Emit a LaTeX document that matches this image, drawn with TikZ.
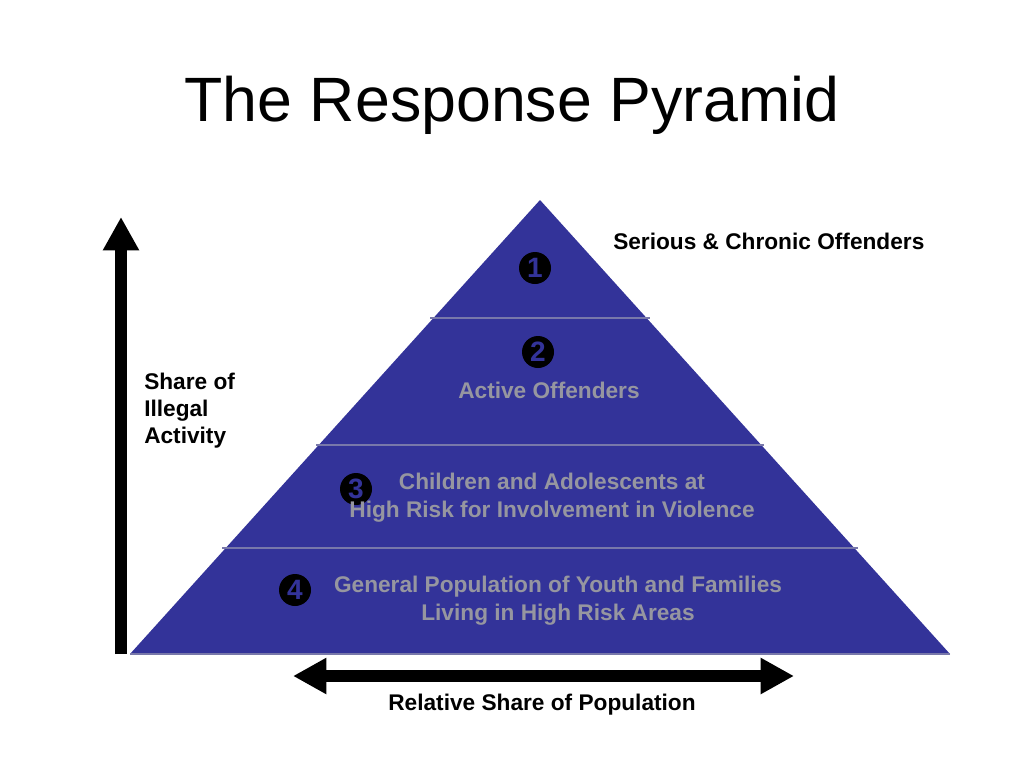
\documentclass[tikz,border=0pt]{standalone}
\usepackage{fontspec}
\setmainfont{Liberation Sans}
\usetikzlibrary{arrows.meta}
\definecolor{pyr}{RGB}{51,51,153}
\definecolor{pline}{RGB}{120,120,170}
\definecolor{ltext}{RGB}{150,150,160}
\tikzset{
  lbl/.style={font=\bfseries\fontsize{17}{20.25}\selectfont, text=black, inner sep=0pt},
  glbl/.style={font=\bfseries\fontsize{17}{20.5}\selectfont, text=ltext, inner sep=0pt, align=center},
  num/.style={circle, fill=black, minimum size=24pt, inner sep=0pt, text=pyr, font=\bfseries\fontsize{21}{21}\selectfont},
  sep/.style={draw=pline, line width=0.9pt},
  bigarrow/.style={line width=9pt, -{Triangle[width=25.5pt,length=25pt]}},
  dblarrow/.style={line width=9pt, {Triangle[width=25.5pt,length=25pt]}-{Triangle[width=25.5pt,length=25pt]}},
}
\begin{document}
\begin{tikzpicture}[x=0.75pt,y=-0.75pt]
\useasboundingbox (0,0) rectangle (1024,768);
% title
\node[font=\fontsize{47}{56}\selectfont, anchor=base] (title) at (512,121) {The Response Pyramid};
% pyramid
\coordinate (apex) at (540,200);
\coordinate (bl) at (130,654);
\coordinate (br) at (950,654);
\fill[pyr] (apex) -- (br) -- (bl) -- cycle;
\draw[pline, line width=0.9pt] (bl) -- (br);
\coordinate (s1l) at (430,318); \coordinate (s1r) at (650,318);
\coordinate (s2l) at (316,445); \coordinate (s2r) at (764,445);
\coordinate (s3l) at (222,548); \coordinate (s3r) at (858,548);
\draw[sep] (s1l) -- (s1r);
\draw[sep] (s2l) -- (s2r);
\draw[sep] (s3l) -- (s3r);
% numbers
\node[num] (n1) at (535,268) {1};
\node[num] (n2) at (538,352) {2};
\node[num] (n3) at (356,489) {3};
\node[num] (n4) at (295,590) {4};
% labels
\node[lbl, anchor=base west] (l1) at (613,249) {Serious \& Chronic Offenders};
\node[glbl, anchor=base] (l2) at (549,398) {Active Offenders};
\node[glbl, anchor=base] (l3) at (552,517) {Children and Adolescents at\\High Risk for Involvement in Violence};
\node[glbl, anchor=base] (l4) at (558,620) {General Population of Youth and Families\\Living in High Risk Areas};
\node[lbl, anchor=base west, align=left] (l5) at (144,443) {Share of\\Illegal\\Activity};
\node[lbl, anchor=base] (l6) at (542,710) {Relative Share of Population};
% arrows
\coordinate (va) at (121,654);
\coordinate (vb) at (121,217);
\draw[bigarrow] (va) -- (vb);
\coordinate (ha) at (293,676);
\coordinate (hb) at (794,676);
\draw[dblarrow] (ha) -- (hb);
\end{tikzpicture}
\end{document}
